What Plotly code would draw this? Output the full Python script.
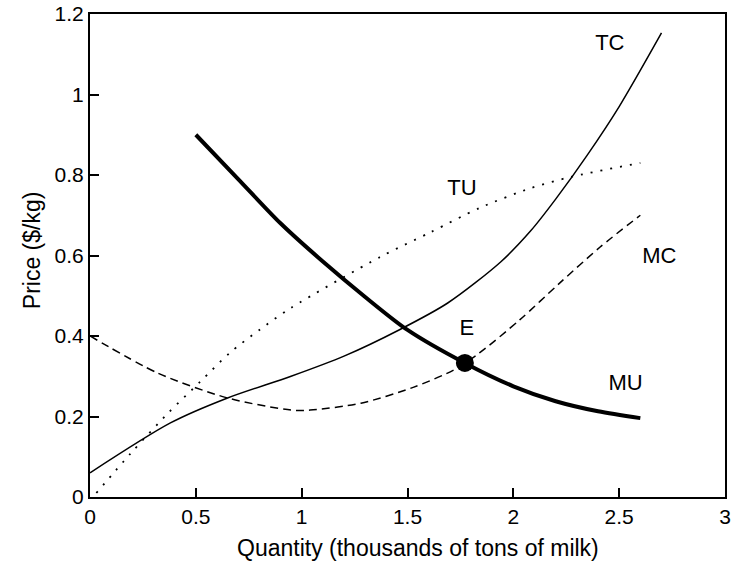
import plotly.graph_objects as go

# Data
mu_x = [0.5, 0.7, 0.9, 1.1, 1.3, 1.5, 1.77, 2.0, 2.2, 2.4, 2.6]
mu_y = [0.90, 0.79, 0.68, 0.585, 0.497, 0.415, 0.333, 0.275, 0.238, 0.213, 0.196]

tc_x = [0, 0.38, 0.65, 0.95, 1.2, 1.46, 1.69, 1.94, 2.08, 2.2, 2.35, 2.5, 2.70]
tc_y = [0.06, 0.184, 0.246, 0.30, 0.35, 0.415, 0.482, 0.584, 0.66, 0.74, 0.85, 0.97, 1.153]

tu_x = [0.03, 0.19, 0.37, 0.52, 0.66, 0.80, 0.95, 1.37, 1.61, 1.84, 2.08, 2.27, 2.6]
tu_y = [0.01, 0.107, 0.209, 0.286, 0.358, 0.415, 0.47, 0.596, 0.658, 0.718, 0.767, 0.795, 0.83]

mc_x = [0, 0.32, 0.65, 0.95, 1.04, 1.28, 1.53, 1.72, 1.84, 2.03, 2.22, 2.41, 2.6]
mc_y = [0.40, 0.308, 0.246, 0.216, 0.216, 0.233, 0.273, 0.316, 0.358, 0.44, 0.532, 0.621, 0.70]

eq_x = [1.771]
eq_y = [0.333]

label_text = ["TC", "TU", "MC", "E", "MU"]
label_x = [2.456, 1.757, 2.69, 1.78, 2.53]
label_y = [1.123, 0.763, 0.596, 0.415, 0.28]

x_ticks = [0, 0.5, 1, 1.5, 2, 2.5, 3]
x_tick_text = ["0", "0.5", "1", "1.5", "2", "2.5", "3"]
y_ticks = [0, 0.2, 0.4, 0.6, 0.8, 1, 1.2]
y_tick_text = ["0", "0.2", "0.4", "0.6", "0.8", "1", "1.2"]

x_title = "Quantity (thousands of tons of milk)"
y_title = "Price ($/kg)"

FONT = "Liberation Sans, Arial, Helvetica, sans-serif"

fig = go.Figure()
fig.add_trace(go.Scatter(x=tu_x, y=tu_y, mode="lines",
                         line=dict(color="black", width=1.8, dash="2px,8px", shape="spline", smoothing=0.8)))
fig.add_trace(go.Scatter(x=mc_x, y=mc_y, mode="lines",
                         line=dict(color="black", width=1.5, dash="8px,5px", shape="spline", smoothing=0.8)))
fig.add_trace(go.Scatter(x=tc_x, y=tc_y, mode="lines",
                         line=dict(color="black", width=1.5, shape="spline", smoothing=0.8)))
fig.add_trace(go.Scatter(x=mu_x, y=mu_y, mode="lines",
                         line=dict(color="black", width=4, shape="spline", smoothing=0.8)))
fig.add_trace(go.Scatter(x=eq_x, y=eq_y, mode="markers",
                         marker=dict(color="black", size=18)))
fig.add_trace(go.Scatter(x=label_x, y=label_y, mode="text", text=label_text,
                         textfont=dict(family=FONT, size=22, color="black")))

axis_common = dict(
    showline=True, linecolor="black", linewidth=2, mirror=True,
    ticks="inside", ticklen=9, tickwidth=2, tickcolor="black",
    showgrid=False, zeroline=False, automargin=False,
    tickfont=dict(family=FONT, size=21, color="black"),
)

fig.update_layout(
    width=741, height=574,
    margin=dict(l=90, r=16, t=14, b=77),
    paper_bgcolor="white", plot_bgcolor="white",
    showlegend=False,
    xaxis=dict(range=[0, 3], tickvals=x_ticks, ticktext=x_tick_text, **axis_common),
    yaxis=dict(range=[0, 1.2], tickvals=y_ticks, ticktext=y_tick_text, **axis_common),
    annotations=[
        dict(text=x_title, xref="paper", yref="paper", x=0.516, y=0,
             xanchor="center", yanchor="middle", yshift=-51, showarrow=False,
             font=dict(family=FONT, size=23, color="black")),
        dict(text=y_title, xref="paper", yref="paper", x=0, y=0.511,
             xanchor="center", yanchor="middle", xshift=-58, textangle=-90,
             showarrow=False, font=dict(family=FONT, size=23, color="black")),
    ],
)

fig.write_html("out.html")
